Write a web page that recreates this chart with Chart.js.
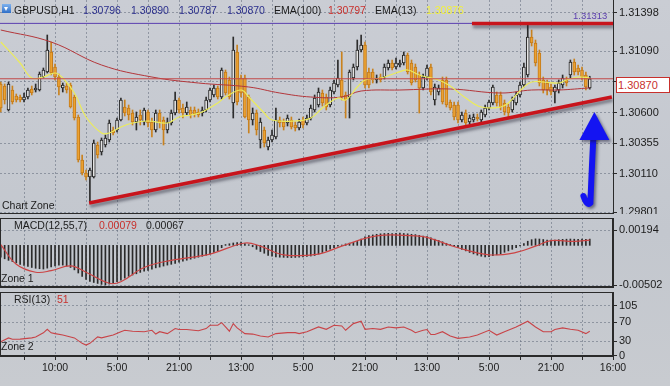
<!DOCTYPE html>
<html>
<head>
<meta charset="utf-8">
<script src="https://cdn.jsdelivr.net/npm/chart.js@4.4.1/dist/chart.umd.min.js"></script>
<style>
html, body { margin: 0; padding: 0; }
body {
  width: 670px; height: 386px; overflow: hidden; position: relative;
  background: linear-gradient(#cacdd4, #c3c7ce 60%, #c8cbd0);
  font-family: "Liberation Sans", Arial, sans-serif; font-size: 10.5px; color: #1c1c1c;
}
canvas { position: absolute; left: 0; }
.t { position: absolute; white-space: nowrap; line-height: 12px; z-index: 5; }
.red { color: #c8302c; }
.blue { color: #2b2f8c; }
.yel { color: #f2f03a; }
#icon { position: absolute; left: 2px; top: 4px; width: 9px; height: 9px; background: linear-gradient(#7fb2ee, #2f6fc8); z-index: 5; }
#icon:after { content: ""; position: absolute; left: 2px; top: 3px; border-left: 2.5px solid transparent; border-right: 2.5px solid transparent; border-top: 4px solid #fff; }
#bidbox { position: absolute; left: 616px; top: 77px; width: 51px; height: 14px; background: #fff; border: 1px solid #c8302c; color: #c8302c; line-height: 14px; padding-left: 1px; z-index: 5; font-size: 11px; }
</style>
</head>
<body>
<canvas id="main" width="670" height="214" style="top:0"></canvas>
<canvas id="macd" width="670" height="72" style="top:216px"></canvas>
<canvas id="rsi" width="670" height="96" style="top:290px"></canvas>

<div id="icon"></div>
<span class="t" style="left:14px;top:4px">GBPUSD,H1</span>
<span class="t blue" style="left:83px;top:4px">1.30796</span>
<span class="t blue" style="left:131px;top:4px">1.30890</span>
<span class="t blue" style="left:179px;top:4px">1.30787</span>
<span class="t blue" style="left:227px;top:4px">1.30870</span>
<span class="t" style="left:274px;top:4px">EMA(100)</span>
<span class="t red" style="left:328px;top:4px">1.30797</span>
<span class="t" style="left:375px;top:4px">EMA(13)</span>
<span class="t yel" style="left:426px;top:4px">1.30876</span>
<span class="t" style="left:573px;top:10px;font-size:9.5px;color:#5c3fae">1.31313</span>
<div id="bidbox">1.30870</div>
<span class="t" style="left:2px;top:199px">Chart Zone</span>
<span class="t" style="left:14px;top:219px">MACD(12,55,7)</span>
<span class="t red" style="left:99px;top:219px">0.00079</span>
<span class="t" style="left:146px;top:219px">0.00067</span>
<span class="t" style="left:1px;top:272px">Zone 1</span>
<span class="t" style="left:14px;top:293px">RSI(13)</span>
<span class="t red" style="left:57px;top:293px">51</span>
<span class="t" style="left:1px;top:340px">Zone 2</span>

<script>
// bar index range of the shared time axis
const X_MIN = -0.2, X_MAX = 158;
const timeLabels = ['10:00', '5:00', '21:00', '13:00', '5:00', '21:00', '13:00', '5:00', '21:00', '16:00'];
const priceTicks = [1.29801, 1.30110, 1.30355, 1.30600, 1.30845, 1.31090, 1.31398];
const macdTicks = [-0.00502, 0.00194];
const rsiTicks = [0, 30, 70, 105];

// GBPUSD H1 candles
const open = [
  1.30828,1.30812,1.30620,1.30780,1.30732,1.30724,1.30700,1.30724,1.30788,1.30780,
  1.30780,1.30884,1.30924,1.31084,1.30964,1.30884,1.30796,1.30812,1.30820,1.30724,
  1.30564,1.30220,1.30116,1.30084,1.30084,1.30340,1.30284,1.30340,1.30380,1.30460,
  1.30460,1.30540,1.30644,1.30636,1.30596,1.30524,1.30580,1.30524,1.30604,1.30524,
  1.30460,1.30596,1.30540,1.30460,1.30516,1.30596,1.30700,1.30636,1.30596,1.30620,
  1.30620,1.30604,1.30596,1.30620,1.30700,1.30740,1.30796,1.30724,1.30924,1.30860,
  1.30676,1.31084,1.30876,1.30876,1.30724,1.30540,1.30596,1.30380,1.30460,1.30324,
  1.30380,1.30404,1.30540,1.30524,1.30516,1.30540,1.30500,1.30476,1.30540,1.30516,
  1.30556,1.30620,1.30660,1.30756,1.30724,1.30660,1.30764,1.30820,1.30860,1.30740,
  1.30724,1.30876,1.30964,1.31100,1.31140,1.30924,1.30924,1.30860,1.30884,1.30884,
  1.30956,1.30996,1.30964,1.30980,1.30996,1.31060,1.30996,1.30964,1.30900,1.30796,
  1.30884,1.30964,1.30700,1.30764,1.30860,1.30860,1.30684,1.30660,1.30660,1.30540,
  1.30596,1.30524,1.30540,1.30564,1.30540,1.30580,1.30636,1.30676,1.30740,1.30740,
  1.30676,1.30644,1.30620,1.30676,1.30740,1.30820,1.30900,1.31204,1.31156,1.31076,
  1.30860,1.30836,1.30804,1.30764,1.30780,1.30820,1.30860,1.30900,1.31004,1.30956,
  1.30940,1.30900,1.30796
];
const high = [
  1.30844,1.30828,1.30844,1.30812,1.30748,1.30740,1.30756,1.30796,1.30812,1.30828,
  1.30924,1.30956,1.31220,1.31164,1.30988,1.30908,1.30836,1.30836,1.30836,1.30740,
  1.30580,1.30260,1.30140,1.30156,1.30380,1.30364,1.30396,1.30420,1.30540,1.30484,
  1.30556,1.30716,1.30700,1.30660,1.30620,1.30604,1.30620,1.30636,1.30620,1.30556,
  1.30620,1.30620,1.30564,1.30556,1.30620,1.30764,1.30716,1.30668,1.30684,1.30644,
  1.30644,1.30628,1.30644,1.30724,1.30796,1.30820,1.30812,1.30956,1.30940,1.30884,
  1.31204,1.31140,1.30900,1.30900,1.30740,1.30636,1.30620,1.30556,1.30484,1.30404,
  1.30460,1.30636,1.30564,1.30548,1.30580,1.30564,1.30524,1.30548,1.30564,1.30580,
  1.30660,1.30740,1.30796,1.30780,1.30748,1.30804,1.30860,1.31020,1.31084,1.30764,
  1.30940,1.30988,1.31180,1.31220,1.31164,1.30956,1.30948,1.30900,1.30908,1.30988,
  1.31020,1.31020,1.31036,1.31020,1.31084,1.31076,1.31020,1.30988,1.30924,1.30908,
  1.30980,1.30988,1.30828,1.30820,1.30884,1.30884,1.30700,1.30684,1.30684,1.30604,
  1.30620,1.30580,1.30588,1.30588,1.30620,1.30660,1.30700,1.30820,1.30764,1.30764,
  1.30700,1.30668,1.30724,1.30764,1.30844,1.30996,1.31313,1.31260,1.31180,1.31100,
  1.30884,1.30860,1.30828,1.30820,1.30860,1.30900,1.30884,1.31020,1.31028,1.30980,
  1.30964,1.30924,1.30890
];
const low = [
  1.30604,1.30668,1.30612,1.30668,1.30684,1.30684,1.30684,1.30708,1.30740,1.30764,
  1.30772,1.30876,1.30916,1.30900,1.30860,1.30740,1.30764,1.30756,1.30636,1.30540,
  1.30204,1.30100,1.30060,1.29876,1.30076,1.30236,1.30260,1.30324,1.30364,1.30420,
  1.30444,1.30532,1.30572,1.30540,1.30500,1.30460,1.30500,1.30500,1.30484,1.30404,
  1.30444,1.30476,1.30340,1.30436,1.30500,1.30580,1.30596,1.30556,1.30580,1.30556,
  1.30564,1.30564,1.30572,1.30604,1.30684,1.30724,1.30708,1.30708,1.30740,1.30708,
  1.30556,1.30660,1.30724,1.30556,1.30436,1.30500,1.30420,1.30316,1.30324,1.30300,
  1.30364,1.30388,1.30484,1.30460,1.30492,1.30468,1.30452,1.30460,1.30476,1.30500,
  1.30540,1.30604,1.30644,1.30652,1.30620,1.30644,1.30748,1.30804,1.30700,1.30556,
  1.30556,1.30860,1.30940,1.31084,1.30796,1.30796,1.30836,1.30836,1.30844,1.30868,
  1.30940,1.30940,1.30948,1.30964,1.30980,1.30908,1.30820,1.30844,1.30596,1.30780,
  1.30860,1.30740,1.30660,1.30740,1.30668,1.30644,1.30620,1.30540,1.30516,1.30524,
  1.30500,1.30508,1.30524,1.30532,1.30516,1.30564,1.30620,1.30660,1.30652,1.30620,
  1.30580,1.30564,1.30604,1.30660,1.30724,1.30804,1.30884,1.31132,1.30972,1.30812,
  1.30756,1.30740,1.30740,1.30676,1.30756,1.30796,1.30812,1.30876,1.30900,1.30900,
  1.30860,1.30780,1.30787
];
const close = [
  1.30636,1.30700,1.30828,1.30684,1.30700,1.30700,1.30724,1.30780,1.30756,1.30796,
  1.30908,1.30940,1.31100,1.30916,1.30884,1.30804,1.30820,1.30780,1.30644,1.30556,
  1.30220,1.30116,1.30084,1.30140,1.30356,1.30260,1.30380,1.30396,1.30516,1.30436,
  1.30540,1.30700,1.30596,1.30580,1.30524,1.30564,1.30540,1.30620,1.30516,1.30460,
  1.30596,1.30516,1.30460,1.30524,1.30596,1.30700,1.30620,1.30596,1.30644,1.30580,
  1.30588,1.30580,1.30620,1.30700,1.30780,1.30796,1.30724,1.30940,1.30756,1.30724,
  1.31100,1.30684,1.30756,1.30564,1.30540,1.30596,1.30460,1.30524,1.30356,1.30380,
  1.30420,1.30540,1.30516,1.30484,1.30556,1.30484,1.30476,1.30524,1.30500,1.30556,
  1.30636,1.30716,1.30764,1.30676,1.30644,1.30780,1.30836,1.30876,1.30724,1.30700,
  1.30924,1.30964,1.31100,1.31140,1.30820,1.30820,1.30860,1.30876,1.30860,1.30964,
  1.30996,1.30956,1.30996,1.30996,1.31060,1.30924,1.30836,1.30860,1.30796,1.30884,
  1.30956,1.30764,1.30804,1.30796,1.30684,1.30660,1.30636,1.30564,1.30540,1.30580,
  1.30516,1.30556,1.30564,1.30548,1.30604,1.30636,1.30684,1.30804,1.30676,1.30644,
  1.30604,1.30596,1.30700,1.30740,1.30820,1.30964,1.31204,1.31156,1.30996,1.30836,
  1.30780,1.30780,1.30764,1.30804,1.30836,1.30876,1.30836,1.31004,1.30924,1.30924,
  1.30884,1.30804,1.30870
];

// moving averages, read at bar indices
const ema100At = [0, 13, 26, 39, 51, 64, 72, 80, 88, 93, 103, 116, 129, 137, 144, 152];
const ema100 = [1.31260, 1.31164, 1.30980, 1.30884, 1.30836, 1.30804, 1.30756, 1.30724,
  1.30724, 1.30772, 1.30780, 1.30788, 1.30756, 1.30780, 1.30780, 1.30797];
const ema13At = [0, 5, 8, 11, 14, 16, 19, 22, 26, 28, 31, 34, 38, 43, 46, 49, 52, 56, 58, 62,
  64, 68, 70, 76, 80, 83, 87, 89, 92, 94, 98, 102, 105, 108, 113, 116, 120, 124, 129, 131,
  135, 137, 140, 144, 146, 149, 152];
const ema13 = [1.31164, 1.30996, 1.30876, 1.30884, 1.30916, 1.30876, 1.30756, 1.30564, 1.30436, 1.30436,
  1.30484, 1.30516, 1.30532, 1.30516, 1.30564, 1.30580, 1.30604, 1.30676, 1.30724, 1.30780,
  1.30724, 1.30596, 1.30540, 1.30532, 1.30556, 1.30636, 1.30716, 1.30700, 1.30804, 1.30860,
  1.30876, 1.30916, 1.30940, 1.30900, 1.30860, 1.30812, 1.30716, 1.30644, 1.30644, 1.30676,
  1.30804, 1.30844, 1.30844, 1.30836, 1.30860, 1.30884, 1.30876];

// drawn objects (bar index, price)
const highLevel = 1.31313;
const resistanceFrom = 121.6;
const trendFrom = [22.8, 1.29876], trendTo = [157.7, 1.30724];
const arrowAt = 153.2, arrowTail = 1.29852, arrowTip = 1.30604;

// MACD(12,55,7)
const macdHist = [
  -0.00150,-0.00170,-0.00190,-0.00205,-0.00222,-0.00240,-0.00254,-0.00268,-0.00280,-0.00290,
  -0.00296,-0.00300,-0.00288,-0.00272,-0.00260,-0.00252,-0.00250,-0.00262,-0.00280,-0.00310,
  -0.00350,-0.00392,-0.00430,-0.00455,-0.00470,-0.00482,-0.00494,-0.00500,-0.00490,-0.00478,
  -0.00460,-0.00440,-0.00415,-0.00392,-0.00375,-0.00360,-0.00342,-0.00328,-0.00316,-0.00300,
  -0.00285,-0.00275,-0.00262,-0.00250,-0.00240,-0.00228,-0.00214,-0.00200,-0.00188,-0.00175,
  -0.00163,-0.00150,-0.00138,-0.00124,-0.00110,-0.00090,-0.00070,-0.00030,0.00010,0.00020,
  0.00030,0.00036,0.00040,0.00022,0.00008,-0.00018,-0.00050,-0.00078,-0.00100,-0.00126,
  -0.00138,-0.00145,-0.00150,-0.00152,-0.00154,-0.00155,-0.00153,-0.00150,-0.00145,-0.00140,
  -0.00135,-0.00128,-0.00110,-0.00090,-0.00070,-0.00048,-0.00028,-0.00010,0.00004,0.00018,
  0.00028,0.00038,0.00050,0.00078,0.00108,0.00122,0.00132,0.00140,0.00146,0.00150,
  0.00152,0.00150,0.00152,0.00154,0.00150,0.00146,0.00140,0.00136,0.00126,0.00118,
  0.00110,0.00094,0.00078,0.00062,0.00045,0.00026,0.00010,-0.00010,-0.00030,-0.00050,
  -0.00070,-0.00090,-0.00108,-0.00124,-0.00138,-0.00148,-0.00142,-0.00130,-0.00120,-0.00105,
  -0.00088,-0.00070,-0.00050,-0.00028,-0.00008,0.00022,0.00052,0.00072,0.00082,0.00080,
  0.00074,0.00068,0.00066,0.00068,0.00072,0.00076,0.00078,0.00080,0.00078,0.00076,
  0.00078,0.00077,0.00079
];
const signalAt = [0, 4, 9, 13, 18, 22, 28, 31, 37, 44, 54, 63, 67, 73, 82, 88, 97, 107, 110, 118, 126, 133, 138, 142, 148, 152];
const macdSignal = [0.0001, -0.0024, -0.0034, -0.0032, -0.0026, -0.0034, -0.0048, -0.0046, -0.0028, -0.0019,
  -0.0011, 0.0003, -0.0001, -0.0012, -0.0011, -0.0001, 0.0012, 0.0012, 0.0010, -0.0003,
  -0.0012, -0.0009, -0.0001, 0.0006, 0.0005, 0.00067];

// RSI(13)
const rsiAt = [0,2,3,5,8,9,11,12,13,14,16,19,21,22,23,25,26,29,31,32,34,37,39,40,41,43,45,46,48,51,
  53,54,56,57,58,59,60,61,63,65,67,69,71,74,76,77,79,82,84,86,88,89,91,93,94,96,98,100,102,104,
  106,107,109,110,111,112,114,116,118,121,123,126,128,130,133,136,138,140,142,143,145,147,149,151,152];
const rsi = [29,37,34,34.5,37,39,47.6,55,47.6,46,43,37,25.5,22,25.5,39,37,43,50,53,51,50,53,45,50,46,56.6,54.5,54.5,52,
  56.6,63.5,63.5,69,60,51,67,58,46,45,41,39,46,48,48,46,50,60,55,63.5,62,53,67,72,55,56.6,55,60,58,60,
  53,48,53,54.5,44,44,50,41,36,39,43,53,43,50,60,72,60,50,50,54.5,58,55,53,46,51];

Chart.defaults.font.family = '"Liberation Sans", Arial, sans-serif';
Chart.defaults.font.size = 10.5;
Chart.defaults.color = '#1c1c1c';
Chart.defaults.animation = false;

const gridColor = 'rgba(96,106,122,0.55)';
const gridAt = [];
for (let v = 6; v <= X_MAX; v += 8) gridAt.push(v);

function xAxis(showLabels) {
  return {
    type: 'linear', min: X_MIN, max: X_MAX, offset: false,
    afterBuildTicks: s => { s.ticks = gridAt.map(v => ({ value: v })); },
    afterFit: s => { s.height = showLabels ? 30 : 1; s.paddingLeft = 0; s.paddingRight = 0; },
    grid: { offset: false, color: gridColor, drawTicks: showLabels, tickLength: 4, tickColor: '#2a2a2a' },
    border: { color: '#2a2a2a', dash: [2, 2] },
    ticks: {
      display: showLabels, autoSkip: false, maxRotation: 0, padding: 2,
      callback: v => { const k = (v - 14) / 16; return Number.isInteger(k) ? timeLabels[k] : ''; }
    }
  };
}

function yAxis(min, max, ticksAt, fmt) {
  return {
    position: 'right', min, max,
    afterBuildTicks: s => { s.ticks = ticksAt.map(v => ({ value: v })); },
    afterFit: s => { s.width = 57; s.paddingTop = 0; s.paddingBottom = 0; },
    grid: { color: gridColor, tickLength: 4, tickColor: '#2a2a2a' },
    border: { color: '#2a2a2a', dash: [2, 2] },
    ticks: { padding: 2, font: { size: 11 }, callback: fmt }
  };
}

const shadowPlugin = {
  id: 'shadow',
  beforeDatasetDraw(chart, args) {
    if (!chart.data.datasets[args.index].shadow) return;
    const c = chart.ctx;
    c.save();
    c.shadowColor = 'rgba(40,40,55,0.5)';
    c.shadowBlur = 3; c.shadowOffsetX = 1; c.shadowOffsetY = 3;
  },
  afterDatasetDraw(chart, args) {
    if (chart.data.datasets[args.index].shadow) chart.ctx.restore();
  }
};

const framePlugin = {
  id: 'frame',
  afterDraw(chart) {
    const { ctx, chartArea: a } = chart;
    ctx.save();
    ctx.strokeStyle = '#2a2a2a';
    ctx.lineWidth = 1;
    ctx.strokeRect(a.left + 0.5, a.top + 0.5, a.right - a.left - 1, a.bottom - a.top - 1);
    ctx.restore();
  }
};

const arrowPlugin = {
  id: 'arrow',
  afterDatasetsDraw(chart) {
    const { ctx, scales: { x, y } } = chart;
    const px = x.getPixelForValue(arrowAt);
    const tipY = y.getPixelForValue(arrowTip), tailY = y.getPixelForValue(arrowTail);
    ctx.save();
    ctx.shadowColor = 'rgba(20,20,50,0.5)';
    ctx.shadowBlur = 3; ctx.shadowOffsetX = 2; ctx.shadowOffsetY = 2;
    ctx.fillStyle = ctx.strokeStyle = '#1414f2';
    ctx.lineWidth = 6; ctx.lineCap = 'round';
    ctx.beginPath();
    ctx.moveTo(px - 1, tipY + 24);
    ctx.quadraticCurveTo(px - 3, tailY - 30, px - 4, tailY - 3);
    ctx.quadraticCurveTo(px - 7, tailY + 1, px - 11, tailY - 10);
    ctx.stroke();
    ctx.beginPath();
    ctx.moveTo(px, tipY);
    ctx.lineTo(px + 15, tipY + 28);
    ctx.lineTo(px - 15, tipY + 28);
    ctx.closePath();
    ctx.fill();
    ctx.restore();
  }
};

const noUi = { legend: { display: false }, tooltip: { enabled: false } };
const bull = close.map((c, i) => c >= open[i]);

function flatLine(x0, x1, v, color, width, order, shadow) {
  return {
    type: 'line', data: [{ x: x0, y: v }, { x: x1, y: v }],
    borderColor: color, borderWidth: width, pointRadius: 0, order, shadow
  };
}

new Chart(document.getElementById('main'), {
  type: 'bar',
  data: {
    datasets: [
      {
        data: low.map((l, i) => ({ x: i, y: [l, high[i]] })),
        backgroundColor: bull.map(b => b ? '#2c2c2c' : '#c9821f'),
        barThickness: 1, grouped: false, order: 10
      },
      {
        data: open.map((o, i) => ({ x: i, y: [o, close[i]] })),
        backgroundColor: bull.map(b => b ? '#e4e4e4' : '#eba233'),
        borderColor: bull.map(b => b ? '#222222' : '#c47a18'),
        borderWidth: 1, borderSkipped: false, minBarLength: 1,
        barThickness: 3, grouped: false, order: 9
      },
      {
        type: 'line', data: ema100At.map((x, i) => ({ x, y: ema100[i] })),
        borderColor: '#b3363a', borderWidth: 1, pointRadius: 0, tension: 0.4, order: 8
      },
      {
        type: 'line', data: ema13At.map((x, i) => ({ x, y: ema13[i] })),
        borderColor: '#ecec5a', borderWidth: 1.2, pointRadius: 0, tension: 0.4, order: 7
      },
      flatLine(X_MIN, X_MAX, close[close.length - 1], '#c24a4a', 1, 6),
      flatLine(X_MIN, X_MAX, highLevel, '#5a3fb0', 1, 5),
      flatLine(resistanceFrom, X_MAX, highLevel, '#c8141c', 3.5, 4, true),
      {
        type: 'line', data: [{ x: trendFrom[0], y: trendFrom[1] }, { x: trendTo[0], y: trendTo[1] }],
        borderColor: '#c8141c', borderWidth: 3.5, pointRadius: 0, order: 3, shadow: true
      }
    ]
  },
  options: {
    responsive: false,
    layout: { padding: 0 },
    plugins: noUi,
    scales: {
      x: xAxis(false),
      y: yAxis(1.29796, 1.31500, priceTicks, v => v.toFixed(5))
    }
  },
  plugins: [shadowPlugin, arrowPlugin]
});

new Chart(document.getElementById('macd'), {
  type: 'bar',
  data: {
    datasets: [
      {
        data: macdHist.map((v, i) => ({ x: i, y: v })),
        backgroundColor: '#2a2a2a', barThickness: 1, grouped: false, order: 2
      },
      {
        type: 'line', data: signalAt.map((x, i) => ({ x, y: macdSignal[i] })),
        borderColor: '#cc4444', borderWidth: 1.2, pointRadius: 0, tension: 0.4, order: 1
      }
    ]
  },
  options: {
    responsive: false,
    layout: { padding: { top: 2 } },
    plugins: noUi,
    scales: {
      x: xAxis(false),
      y: yAxis(-0.00527, 0.00346, macdTicks, v => v.toFixed(5))
    }
  },
  plugins: [framePlugin]
});

new Chart(document.getElementById('rsi'), {
  type: 'line',
  data: {
    datasets: [{
      data: rsiAt.map((x, i) => ({ x, y: rsi[i] })),
      borderColor: '#c84448', borderWidth: 1.1, pointRadius: 0, tension: 0
    }]
  },
  options: {
    responsive: false,
    layout: { padding: { top: 2 } },
    plugins: noUi,
    scales: {
      x: xAxis(true),
      y: yAxis(-1.05, 133.4, rsiTicks, v => String(v))
    }
  },
  plugins: [framePlugin]
});
</script>
</body>
</html>
